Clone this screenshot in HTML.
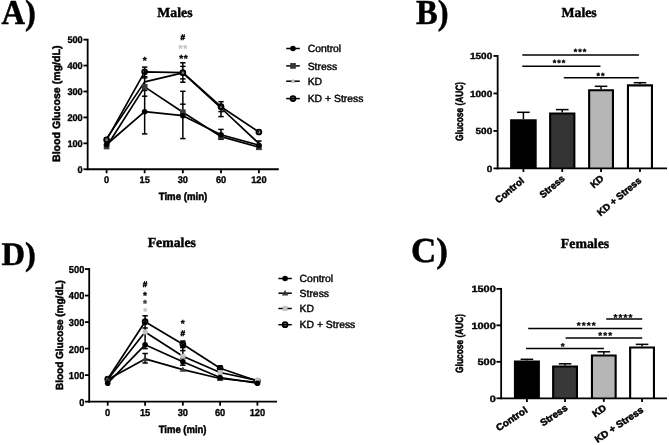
<!DOCTYPE html>
<html lang="en">
<head>
<meta charset="utf-8">
<title>Glucose tolerance figure</title>
<style>
html,body{margin:0;padding:0;background:#fff;}
body{width:669px;height:445px;overflow:hidden;}
svg{display:block;filter:blur(0.3px);}
text{font-family:'Liberation Sans',sans-serif;text-rendering:geometricPrecision;}
.sb{font-weight:700;}
.sbk{font-weight:700;stroke:#000;stroke-width:0.5px;}
.sbt{font-weight:700;stroke:#000;stroke-width:0.35px;}
.sbs{font-weight:700;stroke:#000;stroke-width:0.3px;}
.sr{font-weight:400;stroke:#000;stroke-width:0.4px;}
.tb,.tbk{font-family:'Liberation Serif',serif;font-weight:700;}
.tbk{stroke:#000;stroke-width:0.4px;}
.tb{stroke:#000;stroke-width:0.5px;}
</style>
</head>
<body>
<svg width="669" height="445" viewBox="0 0 669 445">
<rect width="669" height="445" fill="#fff"/>
<g stroke="#000" fill="#000">
<g stroke="none">
<text class="tbk" x="174.9" y="17" font-size="13.8" text-anchor="middle">Males</text>
<text class="tb" font-size="35" transform="translate(1.4 24.1) scale(0.93 1)">A)</text>
</g>
<path d="M106.6 138.6L144.65 81.9L182.85 72.8L221 108L258.9 143.5" fill="none" stroke-width="1.7" stroke-linejoin="round"/>
<path d="M106.6 139.8L144.65 71.8L182.85 72.7L221 106.7L258.9 132" fill="none" stroke-width="1.7" stroke-linejoin="round"/>
<path d="M106.6 146.5L144.65 86.9L182.85 112.3L221 136.6L258.9 147.2" fill="none" stroke-width="1.7" stroke-linejoin="round"/>
<path d="M106.6 144.5L144.65 111.7L182.85 115.7L221 134.8L258.9 145.2" fill="none" stroke-width="1.7" stroke-linejoin="round"/>
<line x1="144.65" y1="67.1" x2="144.65" y2="133.9" stroke-width="1.5"/>
<line x1="141.95" y1="67.1" x2="147.35" y2="67.1" stroke-width="1.5"/>
<line x1="141.95" y1="76.7" x2="147.35" y2="76.7" stroke-width="1.5"/>
<line x1="141.95" y1="77.9" x2="147.35" y2="77.9" stroke-width="1.5"/>
<line x1="141.95" y1="90.4" x2="147.35" y2="90.4" stroke-width="1.5"/>
<line x1="141.95" y1="96.2" x2="147.35" y2="96.2" stroke-width="1.5"/>
<line x1="141.95" y1="133.9" x2="147.35" y2="133.9" stroke-width="1.5"/>
<line x1="182.85" y1="62.8" x2="182.85" y2="82.2" stroke-width="1.5"/>
<line x1="182.85" y1="91.3" x2="182.85" y2="138.6" stroke-width="1.5"/>
<line x1="180.15" y1="62.8" x2="185.55" y2="62.8" stroke-width="1.5"/>
<line x1="180.15" y1="66.4" x2="185.55" y2="66.4" stroke-width="1.5"/>
<line x1="180.15" y1="78.9" x2="185.55" y2="78.9" stroke-width="1.5"/>
<line x1="180.15" y1="82.2" x2="185.55" y2="82.2" stroke-width="1.5"/>
<line x1="180.15" y1="91.3" x2="185.55" y2="91.3" stroke-width="1.5"/>
<line x1="180.15" y1="104.2" x2="185.55" y2="104.2" stroke-width="1.5"/>
<line x1="180.15" y1="138.6" x2="185.55" y2="138.6" stroke-width="1.5"/>
<line x1="221" y1="101.7" x2="221" y2="116.6" stroke-width="1.5"/>
<line x1="221" y1="129.4" x2="221" y2="139.3" stroke-width="1.5"/>
<line x1="218.3" y1="101.7" x2="223.7" y2="101.7" stroke-width="1.5"/>
<line x1="218.3" y1="111.6" x2="223.7" y2="111.6" stroke-width="1.5"/>
<line x1="218.3" y1="116.6" x2="223.7" y2="116.6" stroke-width="1.5"/>
<line x1="218.3" y1="129.4" x2="223.7" y2="129.4" stroke-width="1.5"/>
<line x1="218.3" y1="139.3" x2="223.7" y2="139.3" stroke-width="1.5"/>
<line x1="258.9" y1="141" x2="258.9" y2="149.3" stroke-width="1.5"/>
<line x1="256.2" y1="141" x2="261.6" y2="141" stroke-width="1.5"/>
<line x1="256.2" y1="149.3" x2="261.6" y2="149.3" stroke-width="1.5"/>
<path d="M106.6 136L109.2 140.42L104 140.42Z" fill="#c4c4c4" stroke="none"/>
<path d="M182.85 70.2L185.45 74.62L180.25 74.62Z" fill="#c4c4c4" stroke="none"/>
<path d="M221 105.4L223.6 109.82L218.4 109.82Z" fill="#c4c4c4" stroke="none"/>
<circle cx="106.6" cy="139.8" r="2.4" fill="#000" fill-opacity="0.4" stroke-width="1.9"/>
<circle cx="144.65" cy="71.8" r="2.4" fill="#000" fill-opacity="0.4" stroke-width="1.9"/>
<circle cx="182.85" cy="72.7" r="2.4" fill="#000" fill-opacity="0.4" stroke-width="1.9"/>
<circle cx="221" cy="106.7" r="2.4" fill="#000" fill-opacity="0.4" stroke-width="1.9"/>
<circle cx="258.9" cy="132" r="2.4" fill="#000" fill-opacity="0.4" stroke-width="1.9"/>
<rect x="103.75" y="143.65" width="5.7" height="5.7" fill="#383838" stroke="none"/>
<rect x="141.8" y="84.05" width="5.7" height="5.7" fill="#383838" stroke="none"/>
<rect x="180" y="109.45" width="5.7" height="5.7" fill="#383838" stroke="none"/>
<rect x="218.15" y="133.75" width="5.7" height="5.7" fill="#383838" stroke="none"/>
<rect x="256.05" y="144.35" width="5.7" height="5.7" fill="#383838" stroke="none"/>
<circle cx="106.6" cy="144.5" r="2.8" fill="#000" stroke="none"/>
<circle cx="144.65" cy="111.7" r="2.8" fill="#000" stroke="none"/>
<circle cx="182.85" cy="115.7" r="2.8" fill="#000" stroke="none"/>
<circle cx="221" cy="134.8" r="2.8" fill="#000" stroke="none"/>
<circle cx="258.9" cy="145.2" r="2.8" fill="#000" stroke="none"/>
<line x1="87.65" y1="38.75" x2="87.65" y2="170.15" stroke-width="1.8"/>
<line x1="86.75" y1="169.25" x2="278.8" y2="169.25" stroke-width="1.8"/>
<line x1="83.45" y1="169.25" x2="87.65" y2="169.25" stroke-width="1.8"/>
<line x1="83.45" y1="143.33" x2="87.65" y2="143.33" stroke-width="1.8"/>
<line x1="83.45" y1="117.41" x2="87.65" y2="117.41" stroke-width="1.8"/>
<line x1="83.45" y1="91.49" x2="87.65" y2="91.49" stroke-width="1.8"/>
<line x1="83.45" y1="65.57" x2="87.65" y2="65.57" stroke-width="1.8"/>
<line x1="83.45" y1="39.65" x2="87.65" y2="39.65" stroke-width="1.8"/>
<line x1="106.6" y1="169.25" x2="106.6" y2="173.25" stroke-width="1.8"/>
<line x1="144.65" y1="169.25" x2="144.65" y2="173.25" stroke-width="1.8"/>
<line x1="182.85" y1="169.25" x2="182.85" y2="173.25" stroke-width="1.8"/>
<line x1="221" y1="169.25" x2="221" y2="173.25" stroke-width="1.8"/>
<line x1="258.9" y1="169.25" x2="258.9" y2="173.25" stroke-width="1.8"/>
<g stroke="none">
<text class="sbt" font-size="9.6" text-anchor="end" transform="translate(82.75 173.05) scale(0.96 1)">0</text>
<text class="sbt" font-size="9.6" text-anchor="end" transform="translate(82.75 147.13) scale(0.96 1)">100</text>
<text class="sbt" font-size="9.6" text-anchor="end" transform="translate(82.75 121.21) scale(0.96 1)">200</text>
<text class="sbt" font-size="9.6" text-anchor="end" transform="translate(82.75 95.29) scale(0.96 1)">300</text>
<text class="sbt" font-size="9.6" text-anchor="end" transform="translate(82.75 69.37) scale(0.96 1)">400</text>
<text class="sbt" font-size="9.6" text-anchor="end" transform="translate(82.75 43.45) scale(0.96 1)">500</text>
<text class="sbt" font-size="9.6" text-anchor="middle" transform="translate(106.6 183.45) scale(0.96 1)">0</text>
<text class="sbt" font-size="9.6" text-anchor="middle" transform="translate(144.65 183.45) scale(0.96 1)">15</text>
<text class="sbt" font-size="9.6" text-anchor="middle" transform="translate(182.85 183.45) scale(0.96 1)">30</text>
<text class="sbt" font-size="9.6" text-anchor="middle" transform="translate(221 183.45) scale(0.96 1)">60</text>
<text class="sbt" font-size="9.6" text-anchor="middle" transform="translate(258.9 183.45) scale(0.96 1)">120</text>
<text class="sbk" font-size="10.6" text-anchor="middle" transform="translate(183 199.5) scale(0.91 1)">Time (min)</text>
<text class="sbk" font-size="10.6" text-anchor="middle" transform="translate(60 103.75) rotate(-90)">Blood Glucose (mg/dL)</text>
<text class="sbs" x="144.65" y="64.12" font-size="10.2" text-anchor="middle">*</text>
<text class="sbk" x="182.85" y="40.1" font-size="8.2" text-anchor="middle">#</text>
<text class="sbs" x="183.15" y="51.62" font-size="10.2" text-anchor="middle" letter-spacing="0.6" style="fill:#c4c4c4;stroke:#c4c4c4">**</text>
<text class="sbs" x="183.8" y="61.62" font-size="10.2" text-anchor="middle" letter-spacing="0.6">**</text>
</g>
<line x1="286.2" y1="48.5" x2="299.8" y2="48.5" stroke-width="1.5"/>
<circle cx="293" cy="48.5" r="2.8" fill="#000" stroke="none"/>
<line x1="286.2" y1="65.9" x2="299.8" y2="65.9" stroke-width="1.5"/>
<rect x="290.15" y="63.05" width="5.7" height="5.7" fill="#383838" stroke="none"/>
<line x1="286.2" y1="81.2" x2="299.8" y2="81.2" stroke-width="1.5"/>
<path d="M293 78.6L295.6 83.02L290.4 83.02Z" fill="#c4c4c4" stroke="none"/>
<line x1="286.2" y1="98.6" x2="299.8" y2="98.6" stroke-width="1.5"/>
<circle cx="293" cy="98.6" r="2.4" fill="#000" fill-opacity="0.4" stroke-width="1.9"/>
<g stroke="none">
<text class="sr" x="307.7" y="52.2" font-size="10.4">Control</text>
<text class="sr" x="307.7" y="69.6" font-size="10.4">Stress</text>
<text class="sr" x="307.7" y="84.9" font-size="10.4">KD</text>
<text class="sr" x="307.7" y="102.3" font-size="10.4">KD + Stress</text>
</g>
</g>
<g stroke="#000" fill="#000">
<g stroke="none">
<text class="tbk" x="579.1" y="17" font-size="13.8" text-anchor="middle">Males</text>
<text class="tb" font-size="35" transform="translate(416 23.8) scale(0.93 1)">B)</text>
</g>
<line x1="523.4" y1="119.2" x2="523.4" y2="112.3" stroke-width="1.5"/>
<line x1="517.1" y1="112.3" x2="529.7" y2="112.3" stroke-width="1.5"/>
<path d="M511.15 168.4V120.25H535.65V168.4" fill="#000" stroke-width="2.1"/>
<line x1="523.4" y1="168.4" x2="523.4" y2="172" stroke-width="1.8"/>
<line x1="562.25" y1="112.4" x2="562.25" y2="109.6" stroke-width="1.5"/>
<line x1="555.95" y1="109.6" x2="568.55" y2="109.6" stroke-width="1.5"/>
<path d="M550.15 168.4V113.45H574.35V168.4" fill="#333" stroke-width="2.1"/>
<line x1="562.25" y1="168.4" x2="562.25" y2="172" stroke-width="1.8"/>
<line x1="601.05" y1="89.15" x2="601.05" y2="86.3" stroke-width="1.5"/>
<line x1="594.75" y1="86.3" x2="607.35" y2="86.3" stroke-width="1.5"/>
<path d="M589.15 168.4V90.2H612.95V168.4" fill="#b6b6b6" stroke-width="2.1"/>
<line x1="601.05" y1="168.4" x2="601.05" y2="172" stroke-width="1.8"/>
<line x1="639.95" y1="84.3" x2="639.95" y2="82.7" stroke-width="1.5"/>
<line x1="633.65" y1="82.7" x2="646.25" y2="82.7" stroke-width="1.5"/>
<path d="M627.95 168.4V85.35H651.95V168.4" fill="#fff" stroke-width="2.1"/>
<line x1="639.95" y1="168.4" x2="639.95" y2="172" stroke-width="1.8"/>
<line x1="497.65" y1="55.05" x2="497.65" y2="169.3" stroke-width="1.8"/>
<line x1="496.75" y1="168.4" x2="667" y2="168.4" stroke-width="1.8"/>
<line x1="493.45" y1="168.4" x2="497.65" y2="168.4" stroke-width="1.8"/>
<line x1="493.45" y1="130.92" x2="497.65" y2="130.92" stroke-width="1.8"/>
<line x1="493.45" y1="93.43" x2="497.65" y2="93.43" stroke-width="1.8"/>
<line x1="493.45" y1="55.95" x2="497.65" y2="55.95" stroke-width="1.8"/>
<line x1="522.3" y1="55.1" x2="638.9" y2="55.1" stroke-width="1.5"/>
<line x1="522.3" y1="66.25" x2="600.5" y2="66.25" stroke-width="1.5"/>
<line x1="563.8" y1="77.7" x2="638.9" y2="77.7" stroke-width="1.5"/>
<g stroke="none">
<text class="sbk" font-size="9.6" text-anchor="end" transform="translate(524.7 181.8) rotate(-40)">Control</text>
<text class="sbk" font-size="9.6" text-anchor="end" transform="translate(565.45 179.6) rotate(-40)">Stress</text>
<text class="sbk" font-size="9.6" text-anchor="end" transform="translate(604.25 179.6) rotate(-40)">KD</text>
<text class="sbk" font-size="9.6" text-anchor="end" transform="translate(642.05 181.6) rotate(-40)">KD + Stress</text>
<text class="sbt" font-size="8.9" text-anchor="end" transform="translate(492.25 171.9) scale(1.13 1)">0</text>
<text class="sbt" font-size="8.9" text-anchor="end" transform="translate(492.25 134.42) scale(1.13 1)">500</text>
<text class="sbt" font-size="8.9" text-anchor="end" transform="translate(492.25 96.93) scale(1.13 1)">1000</text>
<text class="sbt" font-size="8.9" text-anchor="end" transform="translate(492.25 59.45) scale(1.13 1)">1500</text>
<text class="sbk" font-size="10.6" text-anchor="middle" transform="translate(463.1 111.4) rotate(-90) scale(0.79 1)">Glucose (AUC)</text>
<text class="sbs" x="580.5" y="54.52" font-size="9" text-anchor="middle" letter-spacing="1">***</text>
<text class="sbs" x="559.6" y="66.22" font-size="9" text-anchor="middle" letter-spacing="1">***</text>
<text class="sbs" x="600.9" y="79.02" font-size="9" text-anchor="middle" letter-spacing="1">**</text>
</g>
</g>
<g stroke="#000" fill="#000">
<g stroke="none">
<text class="tbk" x="171.8" y="247.3" font-size="13.8" text-anchor="middle">Females</text>
<text class="tb" font-size="33" transform="translate(1.6 264.8) scale(0.985 1)">D)</text>
</g>
<path d="M107.7 379L145.1 321.7L182.85 344.3L220.1 368.3L257.4 381" fill="none" stroke-width="1.7" stroke-linejoin="round"/>
<path d="M107.7 379.5L145.1 358.9L182.85 369.6L220.1 378.5L257.4 382.5" fill="none" stroke-width="1.7" stroke-linejoin="round"/>
<path d="M107.7 379.5L145.1 332L182.85 356.2L220.1 372.5L257.4 380.5" fill="none" stroke-width="1.7" stroke-linejoin="round"/>
<path d="M107.7 383.2L145.1 344.8L182.85 361.8L220.1 377.5L257.4 383.2" fill="none" stroke-width="1.7" stroke-linejoin="round"/>
<line x1="145.1" y1="315.8" x2="145.1" y2="348.6" stroke-width="1.5"/>
<line x1="145.1" y1="353.5" x2="145.1" y2="363" stroke-width="1.5"/>
<line x1="142.4" y1="315.8" x2="147.8" y2="315.8" stroke-width="1.5"/>
<line x1="142.4" y1="328" x2="147.8" y2="328" stroke-width="1.5"/>
<line x1="142.4" y1="348.6" x2="147.8" y2="348.6" stroke-width="1.5"/>
<line x1="142.4" y1="353.5" x2="147.8" y2="353.5" stroke-width="1.5"/>
<line x1="142.4" y1="363" x2="147.8" y2="363" stroke-width="1.5"/>
<line x1="182.85" y1="341" x2="182.85" y2="365.2" stroke-width="1.5"/>
<line x1="180.15" y1="341" x2="185.55" y2="341" stroke-width="1.5"/>
<line x1="180.15" y1="347.6" x2="185.55" y2="347.6" stroke-width="1.5"/>
<line x1="180.15" y1="350.6" x2="185.55" y2="350.6" stroke-width="1.5"/>
<line x1="180.15" y1="358.5" x2="185.55" y2="358.5" stroke-width="1.5"/>
<line x1="180.15" y1="365.2" x2="185.55" y2="365.2" stroke-width="1.5"/>
<line x1="220.1" y1="366" x2="220.1" y2="380" stroke-width="1.5"/>
<line x1="217.4" y1="366" x2="222.8" y2="366" stroke-width="1.5"/>
<line x1="217.4" y1="380" x2="222.8" y2="380" stroke-width="1.5"/>
<circle cx="107.7" cy="379" r="2.4" fill="#000" fill-opacity="0.4" stroke-width="1.9"/>
<circle cx="145.1" cy="321.7" r="2.4" fill="#000" fill-opacity="0.4" stroke-width="1.9"/>
<circle cx="182.85" cy="344.3" r="2.4" fill="#000" fill-opacity="0.4" stroke-width="1.9"/>
<circle cx="220.1" cy="368.3" r="2.4" fill="#000" fill-opacity="0.4" stroke-width="1.9"/>
<circle cx="257.4" cy="381" r="2.4" fill="#000" fill-opacity="0.4" stroke-width="1.9"/>
<path d="M107.7 376.3L110.9 381.74L104.5 381.74Z" fill="#383838" stroke="none"/>
<path d="M145.1 355.7L148.3 361.14L141.9 361.14Z" fill="#383838" stroke="none"/>
<path d="M182.85 366.4L186.05 371.84L179.65 371.84Z" fill="#383838" stroke="none"/>
<path d="M220.1 375.3L223.3 380.74L216.9 380.74Z" fill="#383838" stroke="none"/>
<path d="M257.4 379.3L260.6 384.74L254.2 384.74Z" fill="#383838" stroke="none"/>
<rect x="142.65" y="329.55" width="4.9" height="4.9" fill="#c4c4c4" stroke="none"/>
<rect x="180.4" y="353.75" width="4.9" height="4.9" fill="#c4c4c4" stroke="none"/>
<rect x="217.65" y="370.05" width="4.9" height="4.9" fill="#c4c4c4" stroke="none"/>
<rect x="254.95" y="378.05" width="4.9" height="4.9" fill="#c4c4c4" stroke="none"/>
<circle cx="107.7" cy="383.2" r="2.8" fill="#000" stroke="none"/>
<circle cx="145.1" cy="344.8" r="2.8" fill="#000" stroke="none"/>
<circle cx="182.85" cy="361.8" r="2.8" fill="#000" stroke="none"/>
<circle cx="220.1" cy="377.5" r="2.8" fill="#000" stroke="none"/>
<circle cx="257.4" cy="383.2" r="2.8" fill="#000" stroke="none"/>
<line x1="89.2" y1="268.15" x2="89.2" y2="402.55" stroke-width="1.8"/>
<line x1="88.3" y1="401.65" x2="277" y2="401.65" stroke-width="1.8"/>
<line x1="85" y1="401.65" x2="89.2" y2="401.65" stroke-width="1.8"/>
<line x1="85" y1="375.13" x2="89.2" y2="375.13" stroke-width="1.8"/>
<line x1="85" y1="348.61" x2="89.2" y2="348.61" stroke-width="1.8"/>
<line x1="85" y1="322.09" x2="89.2" y2="322.09" stroke-width="1.8"/>
<line x1="85" y1="295.57" x2="89.2" y2="295.57" stroke-width="1.8"/>
<line x1="85" y1="269.05" x2="89.2" y2="269.05" stroke-width="1.8"/>
<line x1="107.7" y1="401.65" x2="107.7" y2="405.65" stroke-width="1.8"/>
<line x1="145.1" y1="401.65" x2="145.1" y2="405.65" stroke-width="1.8"/>
<line x1="182.85" y1="401.65" x2="182.85" y2="405.65" stroke-width="1.8"/>
<line x1="220.1" y1="401.65" x2="220.1" y2="405.65" stroke-width="1.8"/>
<line x1="257.4" y1="401.65" x2="257.4" y2="405.65" stroke-width="1.8"/>
<g stroke="none">
<text class="sbt" font-size="10.1" text-anchor="end" transform="translate(84.3 405.55) scale(0.92 1)">0</text>
<text class="sbt" font-size="10.1" text-anchor="end" transform="translate(84.3 379.03) scale(0.92 1)">100</text>
<text class="sbt" font-size="10.1" text-anchor="end" transform="translate(84.3 352.51) scale(0.92 1)">200</text>
<text class="sbt" font-size="10.1" text-anchor="end" transform="translate(84.3 325.99) scale(0.92 1)">300</text>
<text class="sbt" font-size="10.1" text-anchor="end" transform="translate(84.3 299.47) scale(0.92 1)">400</text>
<text class="sbt" font-size="10.1" text-anchor="end" transform="translate(84.3 272.95) scale(0.92 1)">500</text>
<text class="sbt" font-size="10.1" text-anchor="middle" transform="translate(107.7 416.35) scale(0.92 1)">0</text>
<text class="sbt" font-size="10.1" text-anchor="middle" transform="translate(145.1 416.35) scale(0.92 1)">15</text>
<text class="sbt" font-size="10.1" text-anchor="middle" transform="translate(182.85 416.35) scale(0.92 1)">30</text>
<text class="sbt" font-size="10.1" text-anchor="middle" transform="translate(220.1 416.35) scale(0.92 1)">60</text>
<text class="sbt" font-size="10.1" text-anchor="middle" transform="translate(257.4 416.35) scale(0.92 1)">120</text>
<text class="sbk" font-size="10.6" text-anchor="middle" transform="translate(182.6 432.6) scale(0.895 1)">Time (min)</text>
<text class="sbk" font-size="10.3" text-anchor="middle" transform="translate(63 335.05) rotate(-90) scale(0.971 1)">Blood Glucose (mg/dL)</text>
<text class="sbk" x="145.1" y="286.9" font-size="8.2" text-anchor="middle">#</text>
<text class="sbs" x="145.1" y="298.82" font-size="10.2" text-anchor="middle">*</text>
<text class="sbs" x="145.1" y="307.22" font-size="10.2" text-anchor="middle" style="fill:#383838;stroke:#383838">*</text>
<text class="sbs" x="145.3" y="315.02" font-size="10.2" text-anchor="middle" style="fill:#c4c4c4;stroke:#c4c4c4">*</text>
<text class="sbs" x="182.85" y="327.32" font-size="10.2" text-anchor="middle">*</text>
<text class="sbk" x="182.85" y="335.8" font-size="8.2" text-anchor="middle">#</text>
</g>
<line x1="278.4" y1="278.5" x2="291.8" y2="278.5" stroke-width="1.5"/>
<circle cx="285.1" cy="278.5" r="2.8" fill="#000" stroke="none"/>
<line x1="278.4" y1="293.2" x2="291.8" y2="293.2" stroke-width="1.5"/>
<path d="M285.1 290L288.3 295.44L281.9 295.44Z" fill="#383838" stroke="none"/>
<line x1="278.4" y1="308.5" x2="291.8" y2="308.5" stroke-width="1.5"/>
<rect x="282.65" y="306.05" width="4.9" height="4.9" fill="#c4c4c4" stroke="none"/>
<line x1="278.4" y1="324.7" x2="291.8" y2="324.7" stroke-width="1.5"/>
<circle cx="285.1" cy="324.7" r="2.4" fill="#000" fill-opacity="0.4" stroke-width="1.9"/>
<g stroke="none">
<text class="sr" x="299.6" y="282.2" font-size="10.4">Control</text>
<text class="sr" x="299.6" y="296.9" font-size="10.4">Stress</text>
<text class="sr" x="299.6" y="312.2" font-size="10.4">KD</text>
<text class="sr" x="299.6" y="328.4" font-size="10.4">KD + Stress</text>
</g>
</g>
<g stroke="#000" fill="#000">
<g stroke="none">
<text class="tbk" x="585" y="247.7" font-size="13.8" text-anchor="middle">Females</text>
<text class="tb" font-size="35" transform="translate(411 262.3) scale(1.0 1)">C)</text>
</g>
<line x1="526.9" y1="360.4" x2="526.9" y2="359.3" stroke-width="1.5"/>
<line x1="520.6" y1="359.3" x2="533.2" y2="359.3" stroke-width="1.5"/>
<path d="M514.95 398.3V361.45H538.85V398.3" fill="#000" stroke-width="2.1"/>
<line x1="526.9" y1="398.3" x2="526.9" y2="401.9" stroke-width="1.8"/>
<line x1="565.05" y1="365.4" x2="565.05" y2="363.8" stroke-width="1.5"/>
<line x1="558.75" y1="363.8" x2="571.35" y2="363.8" stroke-width="1.5"/>
<path d="M553.15 398.3V366.45H576.95V398.3" fill="#383838" stroke-width="2.1"/>
<line x1="565.05" y1="398.3" x2="565.05" y2="401.9" stroke-width="1.8"/>
<line x1="603.8" y1="354.4" x2="603.8" y2="351.8" stroke-width="1.5"/>
<line x1="597.5" y1="351.8" x2="610.1" y2="351.8" stroke-width="1.5"/>
<path d="M591.95 398.3V355.45H615.65V398.3" fill="#b6b6b6" stroke-width="2.1"/>
<line x1="603.8" y1="398.3" x2="603.8" y2="401.9" stroke-width="1.8"/>
<line x1="642.05" y1="346.5" x2="642.05" y2="344.35" stroke-width="1.5"/>
<line x1="635.75" y1="344.35" x2="648.35" y2="344.35" stroke-width="1.5"/>
<path d="M630.15 398.3V347.55H653.95V398.3" fill="#fff" stroke-width="2.1"/>
<line x1="642.05" y1="398.3" x2="642.05" y2="401.9" stroke-width="1.8"/>
<line x1="501.15" y1="287.95" x2="501.15" y2="399.2" stroke-width="1.8"/>
<line x1="500.25" y1="398.3" x2="667" y2="398.3" stroke-width="1.8"/>
<line x1="496.45" y1="398.3" x2="501.15" y2="398.3" stroke-width="1.8"/>
<line x1="496.45" y1="361.82" x2="501.15" y2="361.82" stroke-width="1.8"/>
<line x1="496.45" y1="325.33" x2="501.15" y2="325.33" stroke-width="1.8"/>
<line x1="496.45" y1="288.85" x2="501.15" y2="288.85" stroke-width="1.8"/>
<line x1="606.2" y1="318.9" x2="642.2" y2="318.9" stroke-width="1.5"/>
<line x1="528.2" y1="328.6" x2="642.2" y2="328.6" stroke-width="1.5"/>
<line x1="565.6" y1="337.9" x2="642.2" y2="337.9" stroke-width="1.5"/>
<line x1="526" y1="348.6" x2="603.9" y2="348.6" stroke-width="1.5"/>
<g stroke="none">
<text class="sbk" font-size="9.6" text-anchor="end" transform="translate(528.2 411.7) rotate(-34) scale(1.04 1)">Control</text>
<text class="sbk" font-size="9.6" text-anchor="end" transform="translate(568.25 409.5) rotate(-34) scale(1.04 1)">Stress</text>
<text class="sbk" font-size="9.6" text-anchor="end" transform="translate(607 409.5) rotate(-34) scale(1.04 1)">KD</text>
<text class="sbk" font-size="9.6" text-anchor="end" transform="translate(644.15 411.5) rotate(-34) scale(1.04 1)">KD + Stress</text>
<text class="sbt" font-size="9.2" text-anchor="end" transform="translate(495.75 401.9) scale(1.19 1)">0</text>
<text class="sbt" font-size="9.2" text-anchor="end" transform="translate(495.75 365.42) scale(1.19 1)">500</text>
<text class="sbt" font-size="9.2" text-anchor="end" transform="translate(495.75 328.93) scale(1.19 1)">1000</text>
<text class="sbt" font-size="9.2" text-anchor="end" transform="translate(495.75 292.45) scale(1.19 1)">1500</text>
<text class="sbk" font-size="10.6" text-anchor="middle" transform="translate(463.05 343.4) rotate(-90) scale(0.79 1)">Glucose (AUC)</text>
<text class="sbs" x="623.45" y="320.62" font-size="10" text-anchor="middle" letter-spacing="1.1">****</text>
<text class="sbs" x="586.65" y="329.37" font-size="10" text-anchor="middle" letter-spacing="1.1">****</text>
<text class="sbs" x="605.65" y="339.17" font-size="10" text-anchor="middle" letter-spacing="1.1">***</text>
<text class="sbs" x="562.7" y="350.22" font-size="10" text-anchor="middle">*</text>
</g>
</g>
</svg>
</body>
</html>
